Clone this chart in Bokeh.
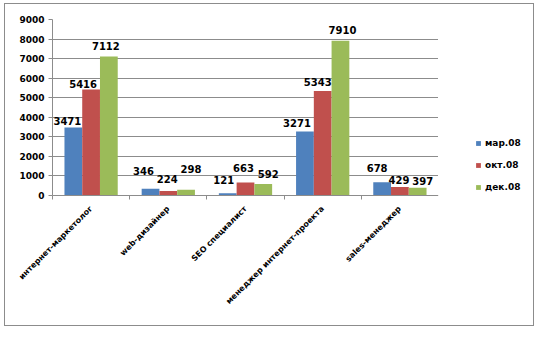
from bokeh.plotting import figure
from bokeh.layouts import row
from bokeh.models import ColumnDataSource, FixedTicker, Legend, LegendItem, Range1d
from bokeh.core.properties import value
from bokeh.embed import file_html
from bokeh.resources import INLINE

# ---- data ----
categories = ["интернет-маркетолог", "web-дизайнер", "SEO специалист",
              "менеджер интернет-проекта", "sales-менеджер"]
series_names = ["мар.08", "окт.08", "дек.08"]
mar08 = [3471, 346, 121, 3271, 678]
oct08 = [5416, 224, 663, 5343, 429]
dec08 = [7112, 298, 592, 7910, 397]
y_ticks = [0, 1000, 2000, 3000, 4000, 5000, 6000, 7000, 8000, 9000]

# ---- styling ----
colors = ["#4F81BD", "#C0504D", "#9BBB59"]
FONT = "DejaVu Sans"
GRID = "#8c8c8c"
# manual label nudges in screen pixels (dx right, dy up), as in the original
label_dx = [[-6, -7, -4, -8, -5],
            [-8, -1, -2, -5, -1],
            [-3, 5, 5, 2, 5]]
label_dy = [[2, 13, 8, 4, 9],
            [1, 7, 10, 4, 2],
            [5, 16, 5, 6, 2]]

H = 321
p = figure(width=433, height=H, output_backend="svg", toolbar_location=None,
           x_range=Range1d(0, len(categories)), y_range=Range1d(0, 9000),
           min_border_left=47, min_border_right=0, min_border_top=15,
           min_border_bottom=130)
p.outline_line_color = None
p.background_fill_color = "white"
p.border_fill_color = "white"

bar_w = 0.23
offsets = [-bar_w, 0.0, bar_w]
sources = []
for k, (vals, off, col) in enumerate(zip([mar08, oct08, dec08], offsets, colors)):
    xs = [i + 0.5 + off for i in range(len(categories))]
    src = ColumnDataSource(dict(x=xs, top=vals, lbl=[str(v) for v in vals],
                                dx=label_dx[k], dy=[-d - 1 for d in label_dy[k]]))
    p.vbar(x="x", top="top", width=bar_w, bottom=0, source=src,
           fill_color=col, line_color=None)
    sources.append(src)

for src in sources:
    p.text(x="x", y="top", text="lbl", source=src, text_align="center",
           text_baseline="bottom", x_offset="dx", y_offset="dy",
           text_font=value(FONT), text_font_style="bold",
           text_font_size="10px", text_color="black")

# y axis
p.yaxis.ticker = FixedTicker(ticks=y_ticks)
p.yaxis.axis_line_color = GRID
p.yaxis.major_tick_line_color = GRID
p.yaxis.major_tick_out = 4
p.yaxis.major_tick_in = 0
p.yaxis.minor_tick_line_color = None
p.yaxis.major_label_text_font = FONT
p.yaxis.major_label_text_font_style = "bold"
p.yaxis.major_label_text_font_size = "9px"
p.yaxis.major_label_text_color = "black"
p.yaxis.major_label_standoff = 4

# x axis: labels at centres, tick marks at boundaries
centers = [i + 0.5 for i in range(len(categories))]
bounds = list(range(len(categories) + 1))
p.xaxis.ticker = FixedTicker(ticks=centers, minor_ticks=bounds)
p.xaxis.major_label_overrides = {c: name for c, name in zip(centers, categories)}
p.xaxis.major_label_orientation = 0.785398
p.xaxis.major_tick_line_color = None
p.xaxis.minor_tick_line_color = GRID
p.xaxis.minor_tick_out = 4
p.xaxis.minor_tick_in = 0
p.xaxis.axis_line_color = GRID
p.xaxis.major_label_text_font = FONT
p.xaxis.major_label_text_font_style = "bold"
p.xaxis.major_label_text_font_size = "8px"
p.xaxis.major_label_text_color = "black"
p.xaxis.major_label_standoff = 6

p.xgrid.grid_line_color = None
p.ygrid.ticker = FixedTicker(ticks=y_ticks)
p.ygrid.grid_line_color = GRID

# legend panel as a separate small figure (its frame aligns with the main frame)
lg = figure(width=95, height=H, output_backend="svg", toolbar_location=None,
            x_range=Range1d(0, 1), y_range=Range1d(0, 1),
            x_axis_type=None, y_axis_type=None, min_border=0)
lg.outline_line_color = None
lg.xgrid.visible = False
lg.ygrid.visible = False
items = []
for name, col in zip(series_names, colors):
    r = lg.vbar(x=[-10], top=[-10], bottom=-11, width=0.1,
                fill_color=col, line_color=None)
    items.append(LegendItem(label=name, renderers=[r]))
legend = Legend(items=items, location=(37, 0), glyph_width=6, glyph_height=6,
                label_height=16, spacing=6, padding=0, margin=0,
                label_standoff=4, border_line_color=None,
                background_fill_alpha=0,
                label_text_font=FONT, label_text_font_style="bold",
                label_text_font_size="9px", label_text_color="black")
lg.add_layout(legend, "center")

layout = row(p, lg, spacing=0)
layout.styles = {"margin-left": "5px", "margin-top": "4px",
                 "outline": "1px solid #8c8c8c"}

open("out.html", "w").write(file_html(layout, INLINE))
